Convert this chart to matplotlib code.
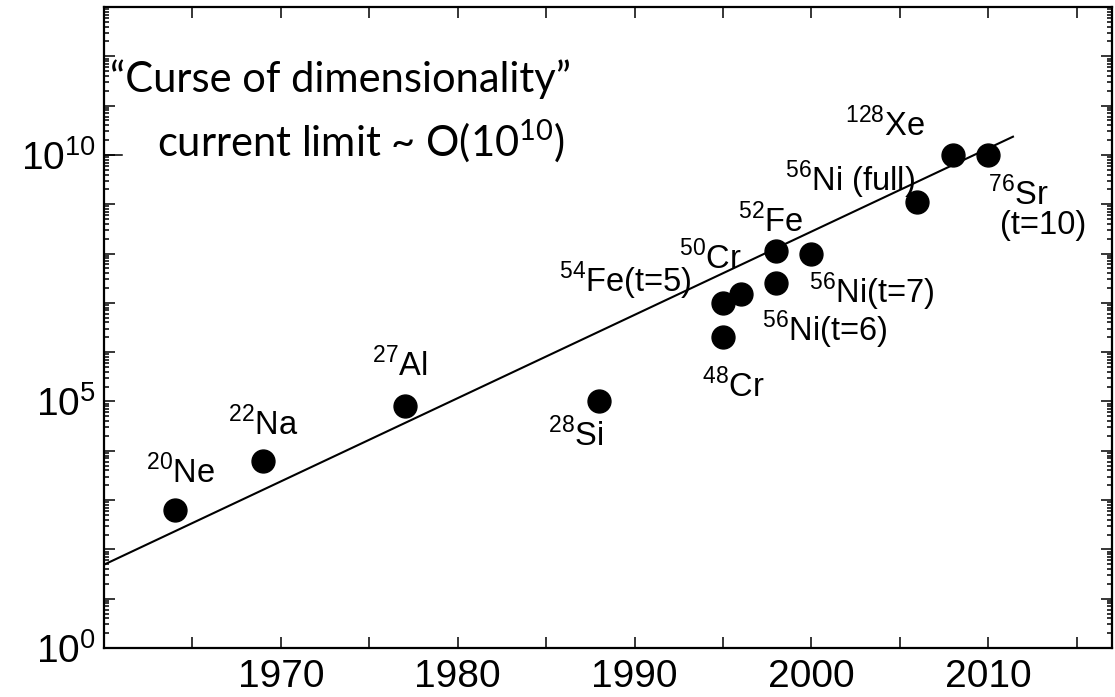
import numpy as np
import matplotlib
matplotlib.use("Agg")
import matplotlib.pyplot as plt
from matplotlib.ticker import FixedLocator, FuncFormatter, LogLocator, NullFormatter

plt.rcParams['font.family'] = ['Liberation Sans', 'DejaVu Sans']
plt.rcParams['mathtext.fontset'] = 'custom'
plt.rcParams['mathtext.rm'] = 'Liberation Sans'
plt.rcParams['mathtext.sf'] = 'Lato'

# shell-model dimensions by year
years = [1964, 1969, 1977, 1988, 1995, 1995, 1996, 1998, 1998, 2000, 2006, 2008, 2010]
dims = [6.3e2, 6.3e3, 8e4, 1e5, 2e6, 1e7, 1.5e7, 2.5e7, 1.1e8, 1e8, 1.1e9, 1e10, 1e10]
labels = [r'$^{20}$Ne', r'$^{22}$Na', r'$^{27}$Al', r'$^{28}$Si', r'$^{48}$Cr',
          r'$^{50}$Cr', r'$^{54}$Fe(t=5)', r'$^{56}$Ni(t=6)', r'$^{52}$Fe',
          r'$^{56}$Ni(t=7)', r'$^{56}$Ni (full)', r'$^{128}$Xe', r'$^{76}$Sr']

# trend line
fit_years = [1960, 2011.4]
fit_dims = [49, 2.34e10]
current_limit = 1e10

# label offsets in pixels (dx, dy) from the point
offsets_px = [(-29, 27), (-35, 26), (-33, 30), (-51, -45), (-21, -60), (-44, 34),
              (-182, 2), (-14, -58), (-38, 19), (-2, -50), (-132, 11), (-108, 19), (0, -50)]

fig = plt.figure(figsize=(11.15, 6.97), dpi=100)
ax = fig.add_axes([0.0933, 0.0703, 0.904, 0.9197])

ax.plot(fit_years, fit_dims, color='black', lw=1.5, zorder=2)
ax.plot(years, dims, 'o', color='black', markersize=16.5, zorder=3)

for x, y, lab, (dx, dy) in zip(years, dims, labels, offsets_px):
    ax.annotate(lab, (x, y), xytext=(dx * 0.72, dy * 0.72), textcoords='offset points',
                ha='left', va='baseline', fontsize=23.5)
ax.annotate('(t=10)', (years[-1], dims[-1]), xytext=(12 * 0.72, -79 * 0.72),
            textcoords='offset points', ha='left', va='baseline', fontsize=23.5)

ax.set_yscale('log')
ax.set_xlim(1960, 2017)
ax.set_ylim(1, 1e13)

ax.xaxis.set_major_locator(FixedLocator(np.arange(1965, 2016, 5)))
ax.xaxis.set_major_formatter(FuncFormatter(lambda v, p: f'{int(v)}' if int(v) % 10 == 0 else ''))
ax.yaxis.set_major_locator(LogLocator(base=10, numticks=100))
ax.yaxis.set_minor_locator(LogLocator(base=10, subs=np.arange(2, 10), numticks=100))
ax.yaxis.set_minor_formatter(NullFormatter())


def ylab(v, p):
    e = int(round(np.log10(v)))
    return r'$\mathdefault{10^{%d}}$' % e if e % 5 == 0 else ''


ax.yaxis.set_major_formatter(FuncFormatter(ylab))

ax.tick_params(which='both', direction='in', top=True, right=True, width=1.1, labelsize=28)
ax.tick_params(which='major', length=8)
ax.tick_params(which='minor', length=3.6)
ax.tick_params(axis='x', pad=8)
ax.tick_params(axis='y', pad=6)
for s in ax.spines.values():
    s.set_linewidth(1.6)

# longer tick marking the current limit
ax.axhline(current_limit, xmin=0, xmax=0.018, color='black', lw=1.1)

ax.text(0.006, 0.867, '\u201cCurse of dimensionality\u201d', transform=ax.transAxes,
        family='Lato', fontsize=30, va='baseline', ha='left')
ax.text(0.053, 0.766, r'current limit ~ O(10$^{\mathsf{10}}$)', transform=ax.transAxes,
        family='Lato', fontsize=30, va='baseline', ha='left')

fig.savefig('out.png', dpi=100)
